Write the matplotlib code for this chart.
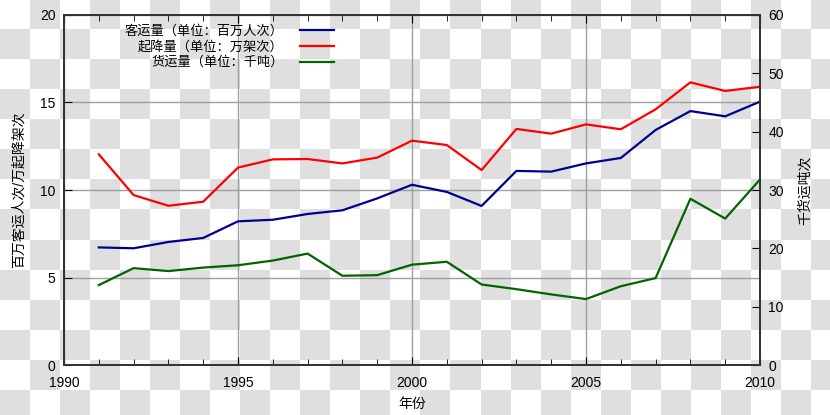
import numpy as np
import matplotlib.pyplot as plt
from matplotlib.ticker import MultipleLocator

plt.rcParams['font.family'] = ['Liberation Sans', 'Noto Sans CJK SC', 'DejaVu Sans']
plt.rcParams['font.size'] = 10

# data
years = list(range(1991, 2011))
passengers = [6.72, 6.67, 7.03, 7.26, 8.21, 8.30, 8.63, 8.84, 9.52, 10.30,
              9.89, 9.09, 11.09, 11.05, 11.52, 11.83, 13.43, 14.51, 14.21, 15.05]
flights = [12.04, 9.71, 9.10, 9.33, 11.28, 11.75, 11.77, 11.52, 11.85, 12.82,
           12.57, 11.14, 13.49, 13.22, 13.75, 13.47, 14.61, 16.15, 15.66, 15.90]
cargo = [13.7, 16.6, 16.1, 16.7, 17.1, 17.9, 19.1, 15.3, 15.4, 17.2,
         17.7, 13.8, 13.0, 12.1, 11.3, 13.5, 14.9, 28.5, 25.1, 31.8]

labels = ['客运量（单位：百万人次）', '起降量（单位：万架次）', '货运量（单位：千吨）']

fig = plt.figure(figsize=(8.3, 4.15), dpi=100)

# transparency checkerboard behind the chart
bg = fig.add_axes([0, 0, 1, 1])
rows, cols = np.indices((14, 28))
checker = (rows + cols) % 2
bg.imshow(checker, cmap='gray_r', vmin=0, vmax=8, extent=[0, 840, 420, 0],
          interpolation='nearest')
bg.set_xlim(0, 830)
bg.set_ylim(415, 0)
bg.axis('off')

ax = fig.add_axes([64/830, 50/415, 696/830, 350/415])
ax.set_facecolor('none')
ax2 = ax.twinx()

l1, = ax.plot(years, passengers, color='#000090', lw=1.6)
l2, = ax.plot(years, flights, color='#ff0000', lw=1.6)
l3, = ax2.plot(years, cargo, color='#006400', lw=1.6)

ax.set_xlim(1990, 2010)
ax.set_ylim(0, 20)
ax2.set_ylim(0, 60)
ax.xaxis.set_major_locator(MultipleLocator(5))
ax.xaxis.set_minor_locator(MultipleLocator(1))
ax.yaxis.set_major_locator(MultipleLocator(5))
ax2.yaxis.set_major_locator(MultipleLocator(10))

ax.grid(True, color='#a0a0a0', lw=1)
ax.tick_params(axis='x', which='both', direction='in', top=True, pad=8)
ax.tick_params(axis='x', which='major', length=6)
ax.tick_params(axis='x', which='minor', length=4)
ax.tick_params(axis='y', direction='in', length=6, right=False, pad=6)
ax2.tick_params(axis='y', direction='in', length=6, pad=6)

for a in (ax, ax2):
    for s in a.spines.values():
        s.set_color('#333333')
        s.set_linewidth(1.3)

ax.set_xlabel('年份', labelpad=5)
ax.set_ylabel('百万客运人次/万起降架次', labelpad=10)
ax2.set_ylabel('千货运吨次', labelpad=10)

ax2.legend([l1, l2, l3], labels, loc='upper right', bbox_to_anchor=(0.401, 0.998),
           frameon=False, markerfirst=False, handlelength=2.6, labelspacing=0.2,
           handletextpad=1.2, borderpad=0.2,
           prop={'family': ['Noto Sans CJK SC', 'DejaVu Sans'], 'size': 9.5})

fig.savefig('out.png', dpi=100)
